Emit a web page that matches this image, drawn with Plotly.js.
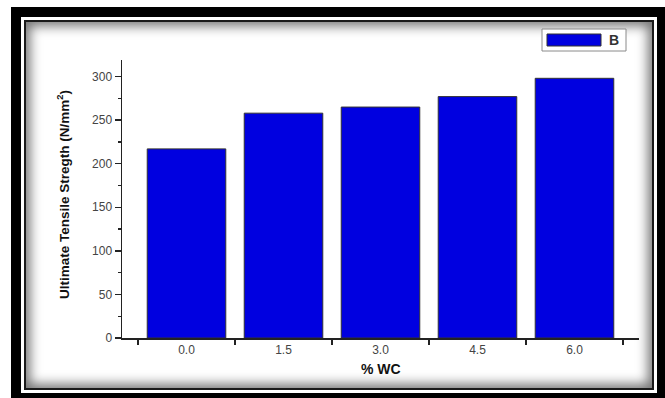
<!DOCTYPE html>
<html>
<head>
<meta charset="utf-8">
<script src="https://cdn.plot.ly/plotly-3.0.1.min.js"></script>
<style>
  html, body { margin: 0; padding: 0; background: #ffffff; }
  #page { position: relative; width: 665px; height: 398px; overflow: hidden; background: #ffffff; }
  /* picture frame: thick black band, thin white line, shaded inner panel */
  #frameOuter { position: absolute; left: 11px; top: 7px; width: 660px; height: 395px; background: #000; }
  #frameLine { position: absolute; left: 21px; top: 17px; width: 636px; height: 376px; background: #fff; }
  #framePanel { position: absolute; left: 24px; top: 20px; width: 626px; height: 366px;
                background: #fff; border: 2px solid #1a1a1a;
                box-shadow: inset 0 0 12px 4px rgba(0,0,0,0.55); }
  #chart { position: absolute; left: 0; top: 0; width: 665px; height: 398px; }
</style>
</head>
<body>
<div id="page">
  <div id="frameOuter"></div>
  <div id="frameLine"></div>
  <div id="framePanel"></div>
  <div id="chart"></div>
</div>
<script>
// WC content (%) and ultimate tensile strength (N/mm²)
const wcLabels = ['0.0', '1.5', '3.0', '4.5', '6.0'];
const strength = [217, 258, 265, 277, 298];
const seriesName = 'B';

const positions = wcLabels.map((_, i) => i);
const betweenTicks = [-0.5].concat(positions.map(p => p + 0.5));

const barColor = '#0000e0';
const axisColor = '#222222';
const labelColor = '#444444';

const trace = {
  type: 'bar',
  x: positions,
  y: strength,
  width: 0.81,
  name: seriesName,
  marker: { color: barColor, line: { color: '#333333', width: 1 } },
  hoverinfo: 'x+y'
};

// legend drawn as a boxed wide swatch with the series name
const legendBox = { x0: 542, x1: 626, y0: 29, y1: 51 };
const swatch = { x0: 547, x1: 601, y0: 34, y1: 46 };

const W = 665, H = 398;
const margin = { l: 122, r: 26, t: 60, b: 60 };
const pw = W - margin.l - margin.r, ph = H - margin.t - margin.b;
const px = x => (x - margin.l) / pw;
const py = y => 1 - (y - margin.t) / ph;

const layout = {
  width: W,
  height: H,
  margin: margin,
  paper_bgcolor: 'rgba(0,0,0,0)',
  plot_bgcolor: 'rgba(0,0,0,0)',
  showlegend: false,
  font: { family: 'Liberation Sans, Arial, sans-serif', size: 12, color: labelColor },
  xaxis: {
    range: [-0.665, 4.665],
    tickmode: 'array',
    tickvals: positions,
    ticktext: wcLabels,
    ticks: '',
    showline: true,
    linecolor: axisColor,
    linewidth: 1.5,
    showgrid: false,
    zeroline: false,
    tickfont: { size: 12, color: labelColor },
    minor: { tickmode: 'array', tickvals: betweenTicks, ticks: 'outside', ticklen: 5, tickwidth: 1.5, tickcolor: axisColor, showgrid: false },
    fixedrange: true
  },
  yaxis: {
    range: [0, 319],
    tickmode: 'linear',
    tick0: 0,
    dtick: 50,
    ticks: 'outside',
    ticklen: 6,
    tickwidth: 1.5,
    tickcolor: axisColor,
    showline: true,
    linecolor: axisColor,
    linewidth: 1.5,
    showgrid: false,
    zeroline: false,
    tickfont: { size: 12, color: labelColor },
    minor: { dtick: 25, ticks: 'outside', ticklen: 3, tickwidth: 1.2, tickcolor: axisColor, showgrid: false },
    fixedrange: true
  },
  shapes: [
    { type: 'rect', xref: 'paper', yref: 'paper',
      x0: px(legendBox.x0), x1: px(legendBox.x1), y0: py(legendBox.y1), y1: py(legendBox.y0),
      line: { color: '#8a8a8a', width: 1 }, fillcolor: '#ffffff' },
    { type: 'rect', xref: 'paper', yref: 'paper',
      x0: px(swatch.x0), x1: px(swatch.x1), y0: py(swatch.y1), y1: py(swatch.y0),
      line: { color: '#333333', width: 1 }, fillcolor: barColor }
  ],
  annotations: [
    { xref: 'paper', yref: 'paper', x: px(607), y: py(40), xanchor: 'left', yanchor: 'middle',
      text: '<b>' + seriesName + '</b>', showarrow: false,
      font: { family: 'Liberation Sans, Arial, sans-serif', size: 14, color: '#333333' } },
    { xref: 'paper', yref: 'paper', x: px(63), y: py(195), xanchor: 'center', yanchor: 'middle',
      textangle: -90, showarrow: false,
      text: '<b>Ultimate Tensile Stregth (N/mm<sup>2</sup>)</b>',
      font: { family: 'Liberation Sans Narrow, Liberation Sans, Arial, sans-serif', size: 13.5, color: '#111111' } },
    { xref: 'paper', yref: 'paper', x: px(381), y: py(369), xanchor: 'center', yanchor: 'middle',
      showarrow: false, text: '<b>% WC</b>',
      font: { family: 'Liberation Sans, Arial, sans-serif', size: 14, color: '#111111' } }
  ]
};

Plotly.newPlot('chart', [trace], layout, { displayModeBar: false, staticPlot: true });
</script>
</body>
</html>
